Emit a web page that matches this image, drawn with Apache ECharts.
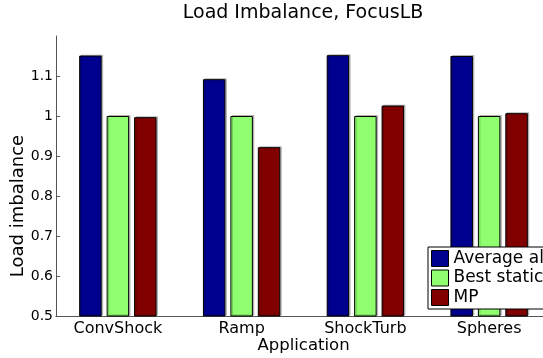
<!DOCTYPE html>
<html>
<head>
<meta charset="utf-8">
<script src="https://cdn.jsdelivr.net/npm/echarts@6/dist/echarts.min.js"></script>
<style>html,body{margin:0;padding:0;background:#fff}#c{width:543px;height:358px}</style>
</head>
<body>
<div id="c"></div>
<script>
const categories = ['ConvShock', 'Ramp', 'ShockTurb', 'Spheres'];
const seriesNames = ['Average allocation', 'Best static allocation', 'MP'];
const averageAlloc = [1.151, 1.092, 1.152, 1.150];
const bestStatic = [1.000, 1.000, 1.000, 1.000];
const mpValues = [0.997, 0.922, 1.026, 1.007];
const colors = ['#00008F', '#8FFF70', '#800000'];
const font = 'DejaVu Sans';

const chart = echarts.init(document.getElementById('c'), null, {renderer: 'canvas'});
const mk = (name, data, color) => ({
  name, type: 'bar', data,
  barWidth: 22.5, barGap: '22%',
  itemStyle: {color, borderColor: '#000', borderWidth: 1,
    shadowColor: 'rgba(0,0,0,0.22)', shadowOffsetX: 1.5, shadowOffsetY: -1, shadowBlur: 0},
  emphasis: {disabled: true},
  animation: false
});
chart.setOption({
  animation: false,
  title: {
    text: 'Load Imbalance, FocusLB', left: 303, top: 4, textAlign: 'center', padding: 0,
    textStyle: {fontFamily: font, fontSize: 19, fontWeight: 'normal', color: '#000'}
  },
  grid: {left: 56, width: 495, top: 36, bottom: 42, containLabel: false, outerBoundsMode: 'none'},
  legend: {
    orient: 'vertical', left: 428, top: 247,
    padding: [3, 60, 3, 3], itemGap: 2.5, itemWidth: 17, itemHeight: 16,
    backgroundColor: '#fff', borderColor: '#000', borderWidth: 1,
    icon: 'rect', itemStyle: {borderColor: '#000', borderWidth: 1},
    textStyle: {fontFamily: font, fontSize: 17, color: '#000'},
    data: seriesNames
  },
  xAxis: {
    type: 'category', data: categories,
    name: 'Application', nameLocation: 'middle', nameGap: 21, nameMoveOverlap: false,
    nameTextStyle: {fontFamily: font, fontSize: 16.5, color: '#000'},
    axisLine: {lineStyle: {color: '#555', width: 1}},
    axisTick: {show: false},
    axisLabel: {fontFamily: font, fontSize: 16, color: '#000', margin: 5}
  },
  yAxis: {
    type: 'value', min: 0.5, max: 1.2, interval: 0.1,
    name: 'Load imbalance', nameLocation: 'middle', nameGap: 29, nameMoveOverlap: false,
    nameTextStyle: {fontFamily: font, fontSize: 18, color: '#000', padding: [0, 60, 0, 0]},
    axisLine: {show: true, lineStyle: {color: '#555', width: 1}},
    axisTick: {show: true, inside: true, length: 4, lineStyle: {color: '#555'}},
    splitLine: {show: false},
    axisLabel: {fontFamily: font, fontSize: 14, color: '#000', margin: 3, showMaxLabel: false,
      formatter: v => String(+v.toFixed(1))}
  },
  series: [
    mk(seriesNames[0], averageAlloc, colors[0]),
    mk(seriesNames[1], bestStatic, colors[1]),
    mk(seriesNames[2], mpValues, colors[2])
  ]
});
</script>
</body>
</html>
